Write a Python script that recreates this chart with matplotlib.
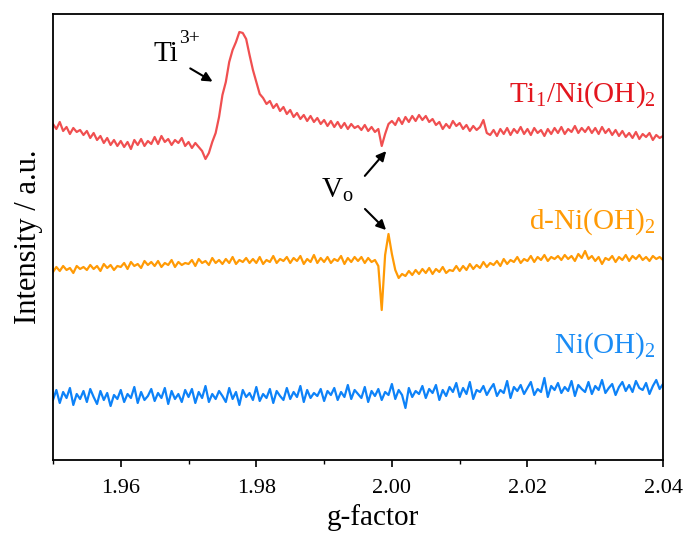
import numpy as np
import matplotlib.pyplot as plt

plt.rcParams['font.family'] = ['Liberation Serif', 'DejaVu Serif']
plt.rcParams['mathtext.fontset'] = 'custom'
plt.rcParams['mathtext.rm'] = 'Liberation Serif'
plt.rcParams['mathtext.it'] = 'Liberation Serif'

# g-factor sampling grid (step 0.0005)
g = np.linspace(1.95, 2.04, 181)

ti_ni = [
    336, 331, 338, 329, 333, 326, 332, 328, 330, 325,
    329, 322, 327, 320, 324, 317, 322, 315, 320, 314,
    319, 313, 318, 311, 320, 315, 321, 314, 319, 316,
    323, 316, 324, 318, 321, 315, 320, 317, 322, 314,
    318, 312, 317, 313, 309, 301, 307, 318, 327, 343,
    365, 378, 398, 410, 418, 428, 427, 421, 405, 390,
    378, 366, 362, 356, 359, 352, 356, 349, 353, 346,
    350, 343, 347, 341, 345, 339, 344, 338, 342, 336,
    340, 334, 339, 333, 338, 332, 337, 331, 336, 332,
    334, 330, 335, 329, 333, 328, 331, 314, 326, 336,
    339, 335, 342, 336, 343, 338, 344, 339, 345, 340,
    344, 338, 341, 335, 338, 331, 336, 332, 339, 334,
    337, 331, 335, 329, 334, 330, 333, 340, 327, 325,
    330, 324, 331, 326, 332, 325, 331, 327, 333, 326,
    331, 325, 332, 327, 330, 324, 331, 326, 332, 327,
    333, 326, 331, 328, 334, 327, 332, 328, 333, 327,
    332, 326, 333, 327, 331, 325, 330, 324, 329, 323,
    327, 322, 328, 321, 326, 323, 327, 320, 325, 322, 324,
]

d_ni = [
    188, 193, 189, 194, 190, 192, 187, 194, 191, 193,
    190, 195, 191, 194, 189, 196, 192, 195, 190, 194,
    193, 197, 191, 198, 194, 196, 192, 199, 195, 198,
    194, 199, 193, 197, 195, 200, 193, 198, 195, 197,
    196, 200, 194, 201, 197, 199, 195, 202, 197, 200,
    196, 201, 197, 203, 196, 200, 198, 202, 197, 201,
    197, 203, 196, 200, 198, 204, 197, 201, 199, 203,
    197, 202, 199, 204, 196, 201, 198, 205, 197, 202,
    198, 203, 197, 201, 199, 204, 196, 202, 198, 203,
    199, 203, 197, 202, 198, 200, 194, 150, 205, 226,
    206, 190, 182, 186, 184, 189, 185, 190, 186, 191,
    187, 192, 186, 191, 188, 193, 187, 190, 189, 194,
    189, 194, 190, 196, 191, 195, 192, 198, 193, 197,
    195, 199, 194, 201, 196, 200, 198, 203, 197, 201,
    199, 204, 198, 203, 200, 205, 199, 203, 201, 204,
    200, 205, 201, 204, 199, 206, 202, 209, 201, 204,
    199, 203, 196, 202, 200, 204, 198, 203, 200, 205,
    199, 204, 201, 205, 200, 203, 199, 204, 201, 203, 200,
]

ni = [
    60, 70, 57, 68, 62, 72, 55, 66, 61, 69,
    58, 71, 63, 56, 69, 60, 67, 54, 65, 61,
    70, 58, 66, 62, 73, 57, 68, 60, 64, 71,
    59, 67, 62, 72, 56, 69, 61, 66, 58, 70,
    63, 71, 57, 68, 62, 74, 58, 66, 61, 69,
    64, 58, 72, 61, 68, 55, 70, 63, 67, 60,
    73, 59, 66, 62, 71, 57, 69, 64, 60, 72,
    61, 68, 63, 74, 58, 70, 62, 67, 64, 71,
    59, 69, 65, 72, 60, 68, 63, 75, 61, 70,
    66, 62, 73, 58, 69, 64, 71, 60, 68, 65,
    76, 61, 70, 65, 52, 72, 63, 69, 66, 74,
    62, 71, 67, 75, 60, 70, 64, 73, 68, 77,
    63, 72, 66, 78, 61, 70, 68, 74, 65, 71,
    76, 64, 70, 67, 79, 62, 73, 69, 75, 66,
    72, 78, 65, 71, 68, 82, 63, 74, 70, 77,
    67, 73, 69, 79, 64, 75, 71, 68, 78, 66,
    74, 70, 80, 67, 72, 76, 65, 73, 78, 69,
    75, 68, 79, 72, 70, 77, 66, 74, 80, 71, 76,
]

labels = ['Ti$_1$/Ni(OH)$_2$', 'd-Ni(OH)$_2$', 'Ni(OH)$_2$']
colors = ['#F04F50', '#FF9A05', '#0D82F8']
text_colors = ['#E3161E', '#FF9A05', '#1A8CF5']
label_y = [365, 238, 114]

fig = plt.figure(figsize=(6.88, 5.36), dpi=100)
ax = fig.add_axes([0.077, 0.1418, 0.8867, 0.8321])

for ys, c, tc, lab, ly in zip([ti_ni, d_ni, ni], colors, text_colors, labels, label_y):
    ax.plot(g, ys, color=c, lw=1.6)
    ax.text(2.0389, ly, lab, color=tc, fontsize=21, ha='right', va='center')

# annotations
ax.text(1.9666, 406, 'Ti', fontsize=21, ha='center', va='center')
ax.text(1.9686, 421, '3+', fontsize=14, ha='left', va='center')
ax.annotate('', xy=(1.9739, 377), xytext=(1.9699, 393),
            arrowprops=dict(arrowstyle='-|>', color='black', lw=1.5, mutation_scale=14))
ax.text(1.9919, 270, 'V$_\\mathrm{o}$', fontsize=21, ha='center', va='center')
ax.annotate('', xy=(1.99943, 311), xytext=(1.99574, 282),
            arrowprops=dict(arrowstyle='-|>', color='black', lw=1.5, mutation_scale=14))
ax.annotate('', xy=(1.99943, 228), xytext=(1.99574, 253),
            arrowprops=dict(arrowstyle='-|>', color='black', lw=1.5, mutation_scale=14))

ax.set_xlim(1.95, 2.04)
ax.set_ylim(0, 446)
ax.set_xticks([1.96, 1.98, 2.00, 2.02, 2.04])
ax.set_xticklabels(['1.96', '1.98', '2.00', '2.02', '2.04'])
ax.set_xticks(np.arange(1.95, 2.045, 0.01), minor=True)
ax.set_yticks([])
ax.tick_params(axis='x', which='major', direction='out', length=5, width=1.2,
               labelsize=16, pad=9)
ax.tick_params(axis='x', which='minor', direction='out', length=3, width=1.0)
for s in ax.spines.values():
    s.set_linewidth(1.3)

ax.set_xlabel('g-factor', fontsize=21)
ax.xaxis.set_label_coords(0.525, -0.098)
ax.set_ylabel('Intensity / a.u.', fontsize=22)
ax.yaxis.set_label_coords(-0.017, 0.5)

fig.savefig('out.png', dpi=100)
